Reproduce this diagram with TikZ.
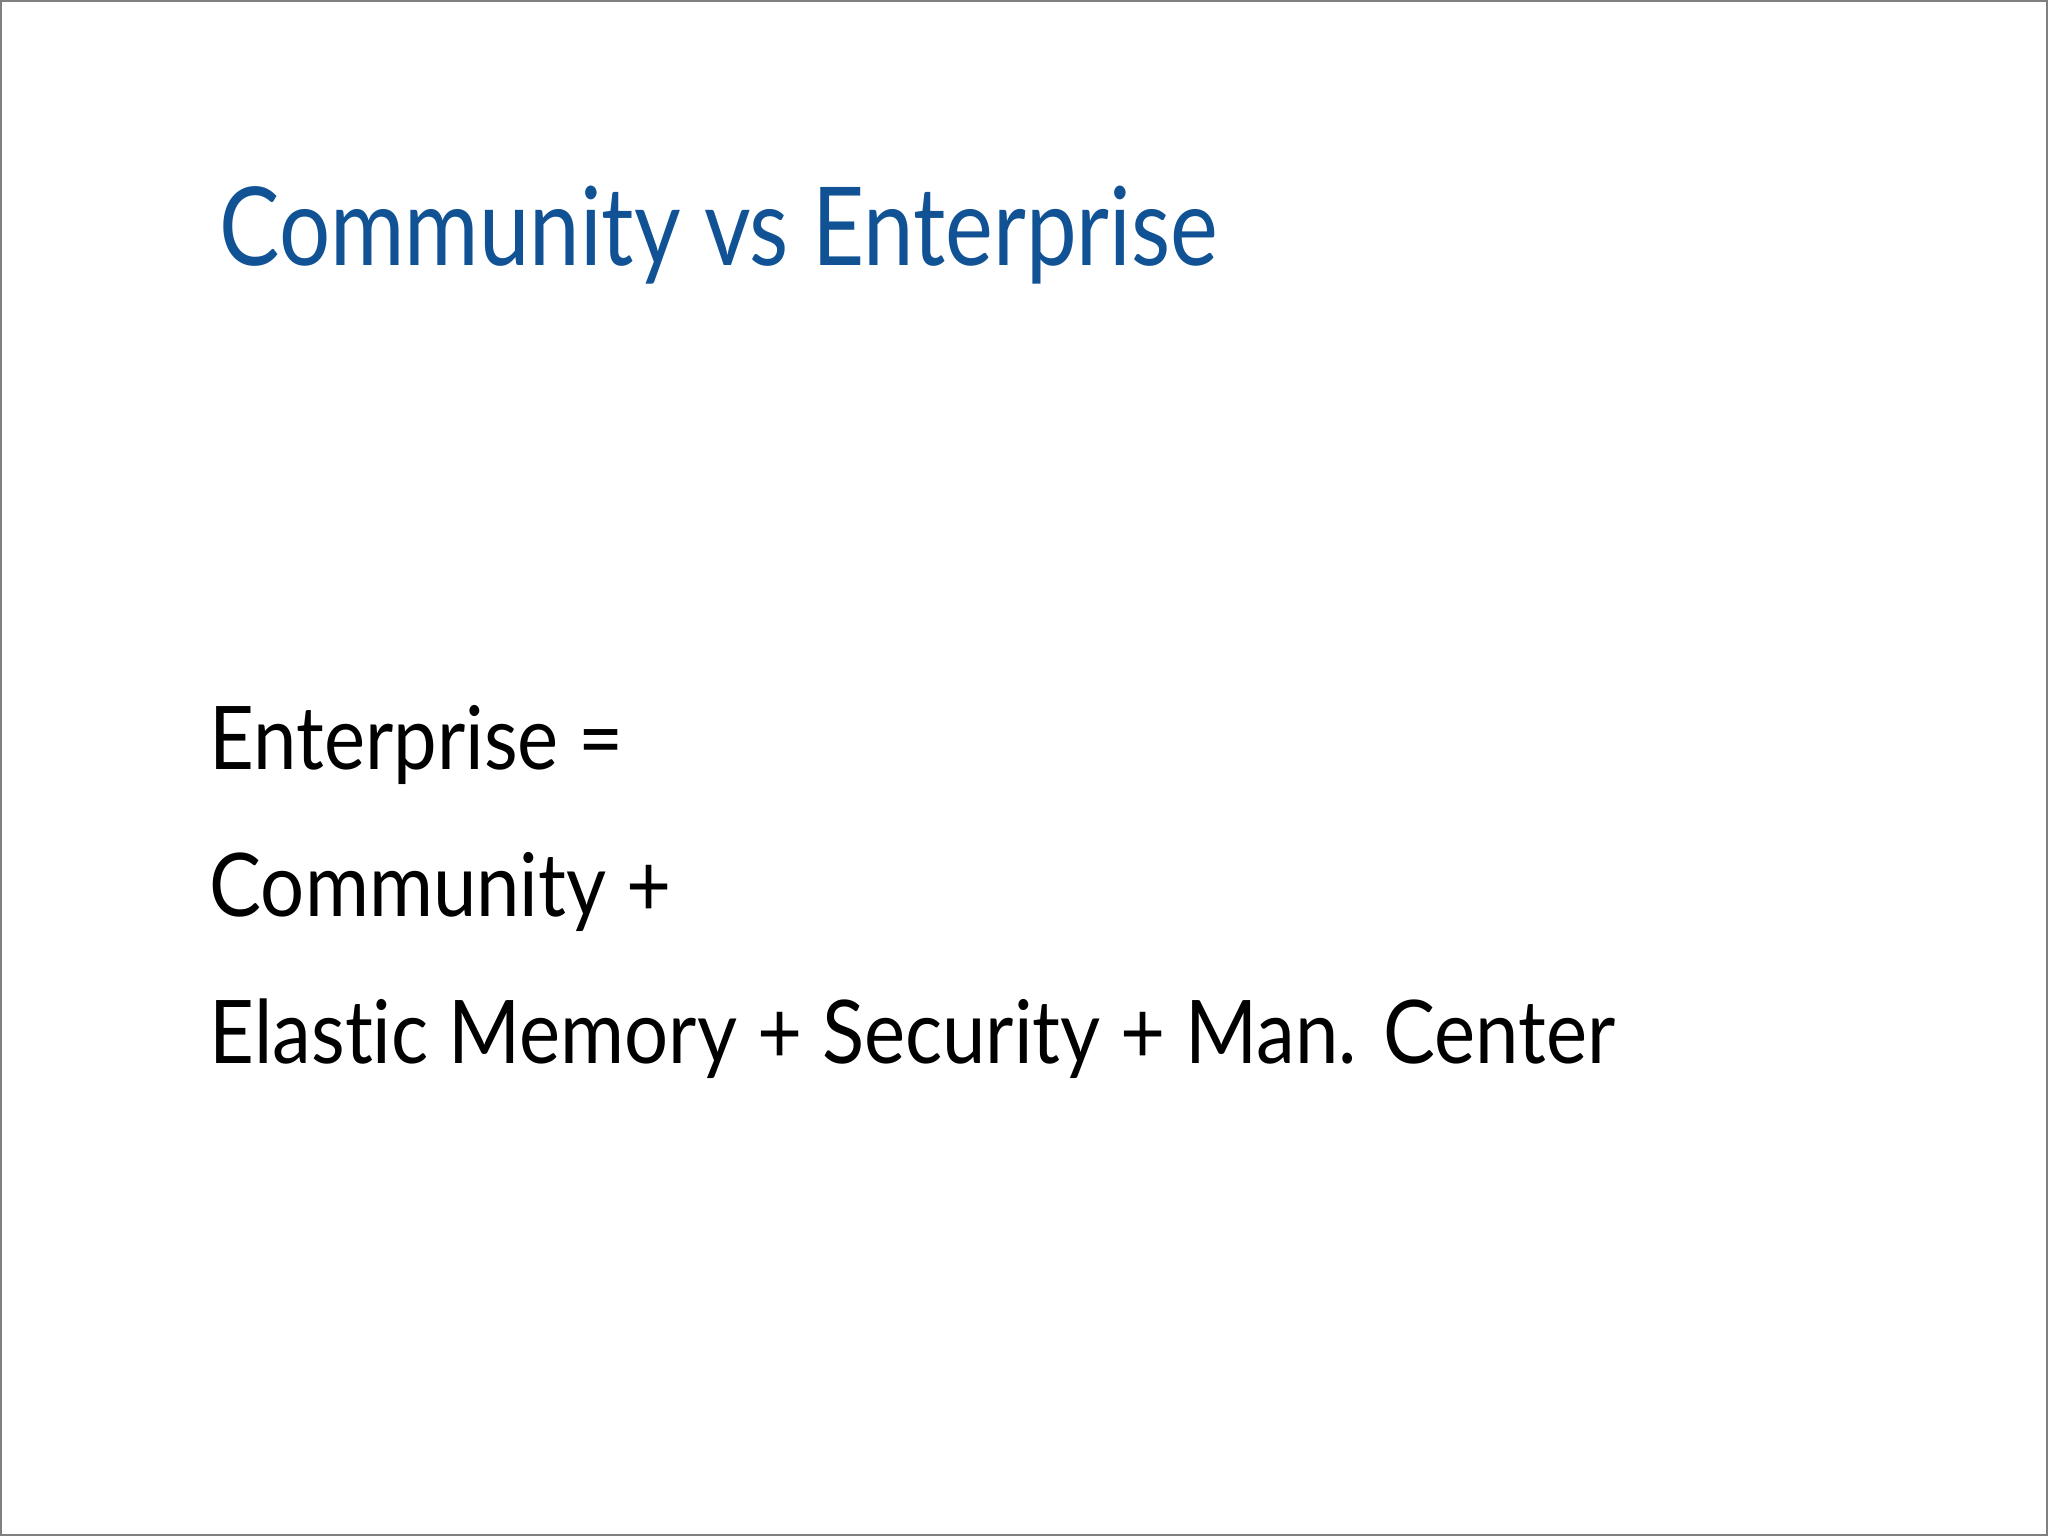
\documentclass[tikz,border=0pt]{standalone}
\usepackage{fontspec}
\setmainfont{Lato}[FakeStretch=0.885,Ligatures=NoCommon]
\newfontfamily\titlefont{Lato}[FakeStretch=0.83,Ligatures=NoCommon]
\definecolor{titleblue}{RGB}{16,82,148}
\tikzset{body/.style={anchor=base west,inner sep=0pt,font=\fontsize{25}{30}\selectfont}}
\begin{document}
\begin{tikzpicture}[x=1cm,y=-1cm]
\useasboundingbox (0,0) rectangle (20.48,15.36);
\draw[gray,line width=0.6pt] (0.01,0.01) rectangle (20.47,15.35);
\node[anchor=base west,inner sep=0pt,text=titleblue,font=\titlefont\fontsize{31}{36}\selectfont] (title) at (2.19,2.66) {Community vs Enterprise};
\node[body] (l1) at (2.09,7.70) {Enterprise =};
\node[body] (l2) at (2.09,9.17) {Community +};
\node[body] (l3) at (2.09,10.63) {Elastic Memory + Security + Man. Center};
\end{tikzpicture}
\end{document}
